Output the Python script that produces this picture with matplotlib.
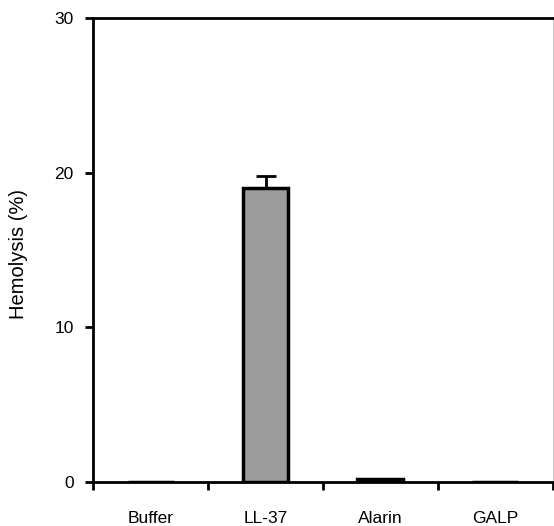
import matplotlib
matplotlib.use("Agg")
import matplotlib.pyplot as plt
import numpy as np

plt.rcParams['font.family'] = ['Liberation Sans', 'DejaVu Sans']

groups = ["Buffer", "LL-37", "Alarin", "GALP"]
hemolysis = [0.0, 19.0, 0.2, 0.0]
err_up = [0.0, 0.75, 0.0, 0.0]

fig = plt.figure(figsize=(5.54, 5.26), dpi=100)
ax = fig.add_axes([0.168, 0.084, 0.830, 0.882])

x = np.arange(len(groups))
ax.bar(x, hemolysis, width=0.4, color="#9c9c9c", edgecolor="black", linewidth=2.5, zorder=2)
# only the LL-37 bar has a visible error bar (upper half)
ax.errorbar(x[1], hemolysis[1], yerr=[[0], [err_up[1]]], fmt="none", ecolor="black",
            elinewidth=2, capsize=7, capthick=2, zorder=3)

ax.set_xlim(-0.5, 3.5)
ax.set_ylim(0, 30)
ax.set_yticks([0, 10, 20, 30])
ax.set_xticks(np.arange(-0.5, 4, 1))
ax.set_xticklabels([])
ax.set_xticks(x, minor=True)
ax.set_xticklabels(groups, minor=True, fontsize=12.5)
ax.tick_params(axis="x", which="minor", length=0, pad=21)
ax.tick_params(axis="x", which="major", direction="out", length=6, width=2)
ax.tick_params(axis="y", direction="out", length=6, width=2, labelsize=12.5, pad=8)

for s in ["left", "bottom", "top"]:
    ax.spines[s].set_linewidth(2)
ax.spines["right"].set_linewidth(0.6)
ax.spines["right"].set_color("#bbbbbb")

ax.set_ylabel("Hemolysis (%)", fontsize=14.5)
ax.yaxis.set_label_coords(-0.141, 0.49)

fig.savefig("out.png", dpi=100)
